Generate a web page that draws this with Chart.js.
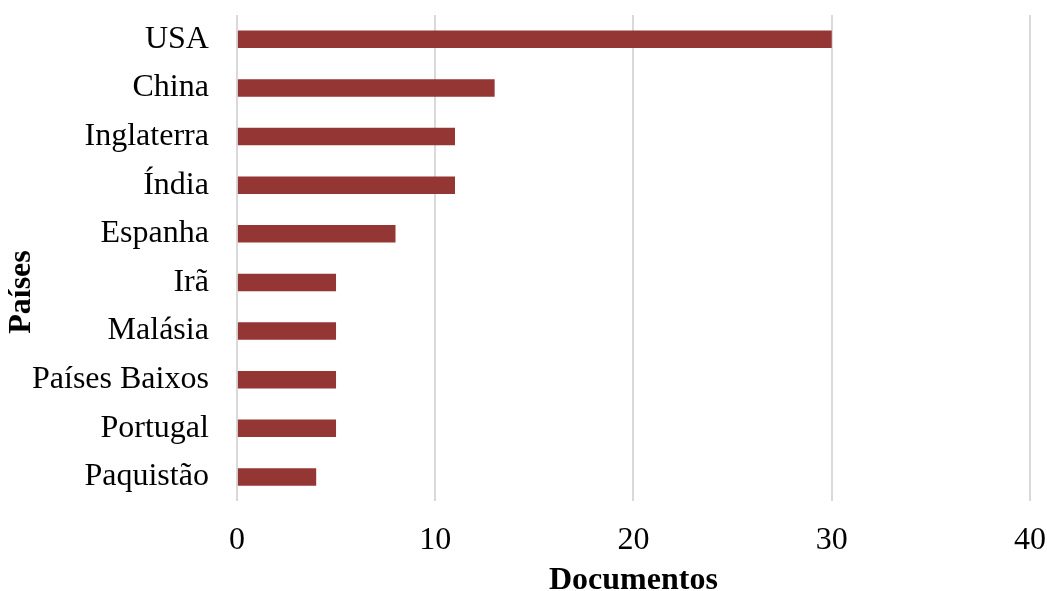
<!DOCTYPE html>
<html>
<head>
<meta charset="utf-8">
<script src="https://cdn.jsdelivr.net/npm/chart.js@4/dist/chart.umd.min.js"></script>
<style>
  html, body { margin: 0; padding: 0; background: #fff; }
  #wrap { width: 1047px; height: 591px; position: relative; }
</style>
</head>
<body>
<div id="wrap"><canvas id="grafico"></canvas></div>
<script>
// países e número de documentos
const paises = ["USA", "China", "Inglaterra", "Índia", "Espanha", "Irã", "Malásia", "Países Baixos", "Portugal", "Paquistão"];
const documentos = [30, 13, 11, 11, 8, 5, 5, 5, 5, 4];
const ticksX = [0, 10, 20, 30, 40];

const fonte = "'Liberation Serif', 'Times New Roman', serif";

// título do eixo Y desenhado à mão, um pouco abaixo do centro
const tituloY = {
    id: "tituloY",
    afterDraw(chart) {
        const ctx = chart.ctx;
        ctx.save();
        ctx.translate(22, 292);
        ctx.rotate(-Math.PI / 2);
        ctx.font = "bold 32px " + fonte;
        ctx.fillStyle = "#000";
        ctx.textAlign = "center";
        ctx.textBaseline = "middle";
        ctx.fillText("Países", 0, 0);
        ctx.restore();
    }
};

new Chart(document.getElementById("grafico"), {
    type: "bar",
    data: {
        labels: paises,
        datasets: [{
            data: documentos,
            backgroundColor: "#943634",
            barPercentage: 0.72,
            categoryPercentage: 0.5
        }]
    },
    options: {
        indexAxis: "y",
        responsive: true,
        maintainAspectRatio: false,
        animation: false,
        layout: { padding: { top: 15, right: 0, left: 4, bottom: 0 } },
        plugins: {
            legend: { display: false },
            tooltip: { enabled: false }
        },
        scales: {
            x: {
                min: 0,
                max: 40,
                afterBuildTicks(axis) {
                    axis.ticks = ticksX.map(v => ({ value: v }));
                },
                // o "40" pode encostar na borda direita
                afterFit(axis) {
                    axis.paddingRight = 17;
                },
                grid: { color: "#d9d9d9", lineWidth: 2, drawTicks: false },
                border: { display: false },
                ticks: {
                    padding: 20,
                    color: "#000",
                    font: { family: fonte, size: 32 }
                },
                title: {
                    display: true,
                    text: "Documentos",
                    color: "#000",
                    font: { family: fonte, size: 32, weight: "bold" },
                    padding: { top: -18, bottom: -9 }
                }
            },
            y: {
                afterFit(axis) {
                    axis.paddingTop = 0;
                },
                grid: { display: false, drawTicks: false },
                border: { display: false },
                ticks: {
                    padding: 28,
                    color: "#000",
                    font: { family: fonte, size: 32 }
                }
            }
        }
    },
    plugins: [tituloY]
});
</script>
</body>
</html>
